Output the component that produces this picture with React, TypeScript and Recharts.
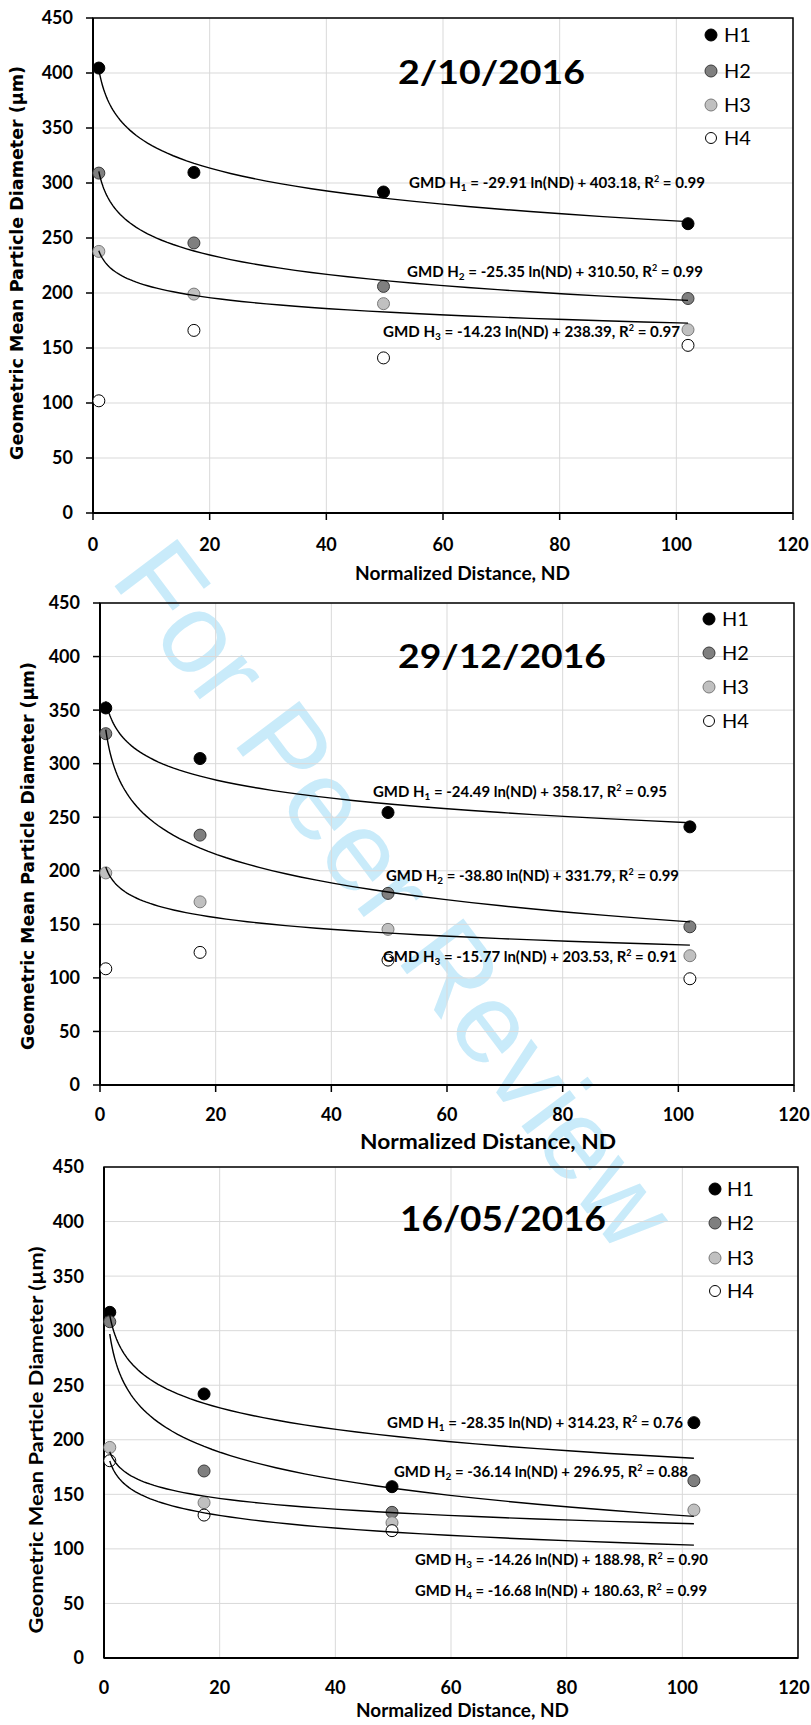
import React from 'react'
import { ScatterChart, Scatter, XAxis, YAxis, CartesianGrid, ReferenceArea } from 'recharts'

// normalized distance of the four sampling points
const ND = [1, 17.3, 49.8, 102]

// GMD (µm) per sampling height — 2/10/2016
const oct_H1 = [404.5, 309.6, 291.8, 263]
const oct_H2 = [309, 245.5, 206, 195]
const oct_H3 = [237.8, 199, 190.3, 166.6]
const oct_H4 = [102, 166, 141, 152.4]

// 29/12/2016
const dec_H1 = [352, 304.8, 254.4, 241]
const dec_H2 = [328, 233.3, 178.9, 147.7]
const dec_H3 = [198, 171, 145.3, 120.7]
const dec_H4 = [108.5, 123.8, 116.6, 99.2]

// 16/05/2016 (H4 has no sample at the last point)
const may_H1 = [316.8, 242, 157, 215.7]
const may_H2 = [308.2, 171.4, 133.5, 162.5]
const may_H3 = [193, 142.4, 124, 135.6]
const may_H4 = [180.8, 131, 116.7]

// log fits GMD = a ln(ND) + b, one per fitted height
const oct_fitA = [-29.91, -25.35, -14.23]
const oct_fitB = [403.18, 310.5, 238.39]
const oct_fitR2 = [0.99, 0.99, 0.97]

const dec_fitA = [-24.49, -38.8, -15.77]
const dec_fitB = [358.17, 331.79, 203.53]
const dec_fitR2 = [0.95, 0.99, 0.91]

const may_fitA = [-28.35, -36.14, -14.26, -16.68]
const may_fitB = [314.23, 296.95, 188.98, 180.63]
const may_fitR2 = [0.76, 0.88, 0.9, 0.99]

const HEIGHTS = ['H1', 'H2', 'H3', 'H4']
const DATES = ['2/10/2016', '29/12/2016', '16/05/2016']
const X_TICKS = [0, 20, 40, 60, 80, 100, 120]
const Y_TICKS = [0, 50, 100, 150, 200, 250, 300, 350, 400, 450]

const MARKERS = [
  { fill: '#000000', stroke: '#000000' },
  { fill: '#7f7f7f', stroke: '#3a3a3a' },
  { fill: '#c0c0c0', stroke: '#7a7a7a' },
  { fill: '#ffffff', stroke: '#000000' },
]

const CALIBRI = 'Lato, "Open Sans", sans-serif'
const VERDANA = '"DejaVu Sans", Verdana, sans-serif'

const toPoints = (ys: number[]) => ys.map((y, i) => ({ x: ND[i], y }))

// sample the fitted curve between the first and last sampling point
const fitCurve = (a: number, b: number) => {
  const n = 60
  const lo = Math.log(ND[0])
  const hi = Math.log(ND[ND.length - 1])
  const pts = []
  for (let i = 0; i <= n; i++) {
    const x = Math.exp(lo + ((hi - lo) * i) / n)
    pts.push({ x, y: a * Math.log(x) + b })
  }
  return pts
}

const panels = [
  {
    series: [oct_H1, oct_H2, oct_H3, oct_H4],
    fitA: oct_fitA, fitB: oct_fitB, fitR2: oct_fitR2,
    top: 0, height: 590,
    margin: { top: 18, right: 18, bottom: 0, left: 0 },
    yWidth: 93, xHeight: 77, tickSize: 7, xTickMargin: 18, yTickMargin: 13,
    title: { x: 398, y: 84, w: 187, size: 32 },
    xTitle: { x: 355, y: 580, w: 215, size: 19 },
    yTitle: { x: 23, y: 263, len: 394, size: 17, font: VERDANA },
    legend: { x: 711, tx: 724, ys: [35, 71, 105, 138] },
    eqs: [
      { x: 409, y: 188, w: 296 },
      { x: 407, y: 277, w: 296 },
      { x: 383, y: 337, w: 297 },
    ],
  },
  {
    series: [dec_H1, dec_H2, dec_H3, dec_H4],
    fitA: dec_fitA, fitB: dec_fitB, fitR2: dec_fitR2,
    top: 590, height: 560,
    margin: { top: 13, right: 17, bottom: 0, left: 0 },
    yWidth: 100, xHeight: 65, tickSize: 7, xTickMargin: 16, yTickMargin: 13,
    title: { x: 398, y: 668, w: 208, size: 33 },
    xTitle: { x: 360, y: 1149, w: 256, size: 21 },
    yTitle: { x: 33.5, y: 856, len: 388, size: 17.5, font: VERDANA },
    legend: { x: 709, tx: 722, ys: [619, 653, 687, 721] },
    eqs: [
      { x: 373, y: 797, w: 294 },
      { x: 386, y: 881, w: 293 },
      { x: 383, y: 962, w: 294 },
    ],
  },
  {
    series: [may_H1, may_H2, may_H3, may_H4],
    fitA: may_fitA, fitB: may_fitB, fitR2: may_fitR2,
    top: 1150, height: 575,
    margin: { top: 17, right: 13, bottom: 0, left: 0 },
    yWidth: 104, xHeight: 67, tickSize: 0, xTickMargin: 23, yTickMargin: 20,
    title: { x: 400, y: 1231, w: 206, size: 34 },
    xTitle: { x: 356, y: 1717, w: 213, size: 18 },
    yTitle: { x: 43, y: 1440, len: 387, size: 19.5, font: CALIBRI },
    legend: { x: 715, tx: 727, ys: [1189, 1223, 1258, 1291] },
    eqs: [
      { x: 387, y: 1428, w: 296 },
      { x: 394, y: 1477, w: 294 },
      { x: 415, y: 1565, w: 293 },
      { x: 415, y: 1596, w: 292 },
    ],
  },
]

const marker = (style: { fill: string; stroke: string }, r = 6) => (props: any) => {
  if (props.cx == null || props.cy == null) return <g />
  return <circle cx={props.cx} cy={props.cy} r={r} fill={style.fill} stroke={style.stroke} strokeWidth={1} />
}

const noDot = () => <g />

const tickFont = { fill: '#000', fontSize: 18, fontWeight: 700, fontFamily: CALIBRI }

// x tick label, kept inside the page's right edge
const XTick = (props: any) => {
  const { x, y, payload } = props
  return (
    <text x={Math.min(x, 794)} y={y} dy={12.8} textAnchor="middle" {...tickFont}>
      {payload.value}
    </text>
  )
}

function Panel({ p }: { p: (typeof panels)[number] }) {
  const ticked = p.tickSize > 0
  return (
    <div style={{ position: 'absolute', left: 0, top: p.top }}>
      <ScatterChart width={811} height={p.height} margin={p.margin}>
        <CartesianGrid stroke="#d9d9d9" strokeWidth={1} />
        <XAxis
          type="number"
          dataKey="x"
          domain={[0, 120]}
          ticks={X_TICKS}
          height={p.xHeight}
          axisLine={{ stroke: '#000', strokeWidth: 2 }}
          tickLine={ticked ? { stroke: '#000', strokeWidth: 1.5 } : false}
          tickSize={p.tickSize}
          tickMargin={p.xTickMargin}
          tick={<XTick />}
          interval={0}
        />
        <YAxis
          type="number"
          dataKey="y"
          domain={[0, 450]}
          ticks={Y_TICKS}
          width={p.yWidth}
          axisLine={{ stroke: '#000', strokeWidth: 2 }}
          tickLine={ticked ? { stroke: '#000', strokeWidth: 1.5 } : false}
          tickSize={p.tickSize}
          tickMargin={p.yTickMargin}
          tick={tickFont}
          interval={0}
        />
        <ReferenceArea x1={0} x2={120} y1={0} y2={450} fill="none" stroke="#000" strokeWidth={1.5} ifOverflow="visible" />
        {p.series.map((ys, i) => (
          <Scatter
            key={HEIGHTS[i]}
            name={HEIGHTS[i]}
            data={toPoints(ys)}
            shape={marker(MARKERS[i])}
            isAnimationActive={false}
          />
        ))}
        {p.fitA.map((a, i) => (
          <Scatter
            key={'fit' + i}
            data={fitCurve(a, p.fitB[i])}
            line={{ stroke: '#000', strokeWidth: 1.4 }}
            lineJointType="linear"
            shape={noDot}
            legendType="none"
            isAnimationActive={false}
          />
        ))}
      </ScatterChart>
    </div>
  )
}

function Equation({ h, a, b, r2, pos }: { h: number; a: number; b: number; r2: number; pos: { x: number; y: number; w: number } }) {
  return (
    <text
      x={pos.x}
      y={pos.y}
      fontFamily={CALIBRI}
      fontWeight={700}
      fontSize={15}
      fill="#000"
      textLength={pos.w}
      lengthAdjust="spacingAndGlyphs"
    >
      GMD H
      <tspan dy={3} fontSize={10}>{h}</tspan>
      <tspan dy={-3}>{` = ${a.toFixed(2)} ln(ND) + ${b.toFixed(2)}, R`}</tspan>
      <tspan dy={-6} fontSize={9}>2</tspan>
      <tspan dy={6}>{` = ${r2.toFixed(2)}`}</tspan>
    </text>
  )
}

function Overlay() {
  return (
    <svg width={811} height={1725} style={{ position: 'absolute', left: 0, top: 0, pointerEvents: 'none' }}>
      {panels.map((p, k) => (
        <g key={k}>
          <text
            x={p.title.x}
            y={p.title.y}
            fontFamily={CALIBRI}
            fontWeight={700}
            fontSize={p.title.size}
            textLength={p.title.w}
            lengthAdjust="spacingAndGlyphs"
          >
            {DATES[k]}
          </text>
          <text
            x={p.xTitle.x}
            y={p.xTitle.y}
            fontFamily={CALIBRI}
            fontWeight={700}
            fontSize={p.xTitle.size}
            textLength={p.xTitle.w}
            lengthAdjust="spacingAndGlyphs"
          >
            Normalized Distance, ND
          </text>
          <text
            x={p.yTitle.x}
            y={p.yTitle.y}
            textAnchor="middle"
            transform={`rotate(-90 ${p.yTitle.x} ${p.yTitle.y})`}
            fontFamily={p.yTitle.font}
            fontWeight={700}
            fontSize={p.yTitle.size}
            textLength={p.yTitle.len}
            lengthAdjust="spacingAndGlyphs"
          >
            Geometric Mean Particle Diameter (µm)
          </text>
          {HEIGHTS.map((h, i) => (
            <g key={h}>
              <circle
                cx={p.legend.x}
                cy={p.legend.ys[i]}
                r={i === 3 ? 5.5 : 6}
                fill={MARKERS[i].fill}
                stroke={MARKERS[i].stroke}
                strokeWidth={1}
              />
              <text x={p.legend.tx} y={p.legend.ys[i] + 7} fontFamily={CALIBRI} fontSize={20} fill="#000">
                {h}
              </text>
            </g>
          ))}
          {p.fitA.map((a, i) => (
            <Equation key={i} h={i + 1} a={a} b={p.fitB[i]} r2={p.fitR2[i]} pos={p.eqs[i]} />
          ))}
        </g>
      ))}
    </svg>
  )
}

export default function App() {
  return (
    <div style={{ position: 'absolute', left: 0, top: 0, width: 811, height: 1725, background: '#fff', overflow: 'hidden' }}>
      <svg width={811} height={1725} style={{ position: 'absolute', left: 0, top: 0 }}>
        <text
          x={396}
          y={894}
          textAnchor="middle"
          dominantBaseline="central"
          transform="rotate(53 396 894)"
          fontFamily='"Liberation Sans", Arial, sans-serif'
          fontSize={114}
          fill="#c9ebfa"
        >
          For Peer Review
        </text>
      </svg>
      {panels.map((p, k) => (
        <Panel key={k} p={p} />
      ))}
      <Overlay />
    </div>
  )
}
